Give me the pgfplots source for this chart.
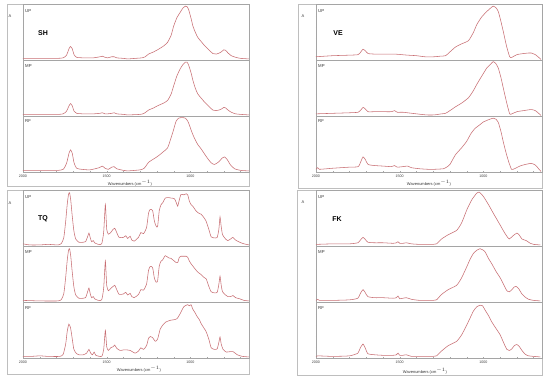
\documentclass[border=0pt]{standalone}
\usepackage{fontspec}
\setmainfont{Liberation Sans}
\usepackage{pgfplots}
\pgfplotsset{compat=1.18}
\definecolor{spec}{RGB}{200,110,115}
\definecolor{frm}{RGB}{190,190,190}
\definecolor{sep}{RGB}{165,165,165}
\pgfplotsset{
 sp/.style={scale only axis, width=226pt, height=56pt, xmin=650, xmax=2000, x dir=reverse,
  ymin=-0.01, ymax=1.03, axis line style={draw=sep, line width=0.5pt},
  ytick={0.2,0.4,0.6,0.8}, yticklabels={}, ytick pos=left, tick align=inside,
  major tick length=1.2pt, minor tick length=1pt, tick style={draw=gray!70, line width=0.3pt},
  xtick=\empty, anchor=north west},
 spb/.style={sp, xtick={2000,1500,1000}, minor xtick={1900,1800,...,700}, xtick pos=bottom,
  xticklabel style={font=\fontsize{3.6}{4}\selectfont, text=black!75, yshift=0.6pt},
  /pgf/number format/assume math mode=true, /pgf/number format/set thousands separator={}},
 ln/.style={draw=spec, line width=0.55pt, smooth, tension=0.35, mark=none}
}
\newcommand{\sub}[4]{\begin{axis}[#3, at={(#1pt,#2pt)}]
 \addplot[ln] coordinates {#4};
 \end{axis}}
\tikzset{lab/.style={font=\fontsize{4.3}{5}\selectfont, text=black!80, anchor=west, inner sep=0pt},
 big/.style={font=\fontsize{7}{8}\selectfont\bfseries, inner sep=0pt},
 wn/.style={font=\fontsize{4}{5}\selectfont, text=black!80, inner sep=0pt}}
\begin{document}
\begin{tikzpicture}
\path[use as bounding box, fill=white] (0,0) rectangle (550pt,381pt);
% frames
\draw[frm, line width=0.5pt] (7pt,377pt) rectangle (249pt,195pt);
\draw[frm, line width=0.5pt] (298pt,377pt) rectangle (542pt,193pt);
\draw[frm, line width=0.5pt] (7pt,191pt) rectangle (249pt,7pt);
\draw[frm, line width=0.5pt] (297pt,191pt) rectangle (542pt,6pt);
% ===== SH =====
\sub{23}{377}{sp}{(2000,0.02)(1900,0.02)(1800,0.02)(1760,0.03)(1740,0.08)(1725,0.20)(1716,0.24)(1706,0.20)(1695,0.09)(1680,0.04)(1640,0.03)(1580,0.03)(1540,0.05)(1526,0.06)(1510,0.04)(1495,0.03)(1470,0.05)(1456,0.05)(1440,0.03)(1400,0.02)(1376,0.01)(1330,0.02)(1290,0.03)(1270,0.05)(1250,0.10)(1220,0.14)(1196,0.18)(1160,0.25)(1136,0.32)(1115,0.45)(1100,0.62)(1080,0.78)(1060,0.88)(1046,0.95)(1030,0.99)(1020,0.98)(1010,0.92)(995,0.75)(985,0.62)(970,0.50)(956,0.41)(935,0.33)(916,0.26)(890,0.18)(866,0.11)(846,0.10)(820,0.13)(800,0.18)(790,0.17)(775,0.12)(756,0.07)(730,0.04)(700,0.02)(650,0.01)}
\sub{23}{321}{sp}{(2000,0.02)(1800,0.02)(1760,0.03)(1740,0.08)(1725,0.18)(1716,0.22)(1706,0.18)(1695,0.08)(1680,0.04)(1640,0.03)(1580,0.03)(1540,0.04)(1526,0.05)(1510,0.03)(1495,0.03)(1470,0.04)(1456,0.05)(1440,0.03)(1400,0.02)(1376,0.01)(1300,0.02)(1276,0.04)(1250,0.10)(1220,0.14)(1196,0.18)(1160,0.23)(1136,0.28)(1115,0.40)(1100,0.55)(1080,0.74)(1060,0.87)(1046,0.94)(1030,0.99)(1020,0.99)(1010,0.93)(995,0.78)(985,0.65)(970,0.50)(956,0.40)(935,0.32)(916,0.25)(890,0.17)(866,0.10)(846,0.09)(820,0.11)(800,0.15)(790,0.14)(775,0.10)(756,0.06)(730,0.03)(700,0.02)(650,0.01)}
\sub{23}{265}{spb}{(2000,0.02)(1800,0.02)(1760,0.04)(1740,0.15)(1725,0.34)(1716,0.40)(1706,0.34)(1695,0.16)(1680,0.06)(1650,0.04)(1600,0.03)(1545,0.07)(1526,0.10)(1510,0.06)(1490,0.04)(1470,0.08)(1456,0.09)(1440,0.05)(1400,0.02)(1376,0.01)(1300,0.03)(1276,0.06)(1250,0.17)(1236,0.20)(1196,0.28)(1160,0.37)(1136,0.44)(1116,0.62)(1100,0.78)(1086,0.93)(1070,0.99)(1050,1.0)(1030,0.99)(1015,0.93)(1006,0.86)(990,0.72)(976,0.62)(956,0.50)(936,0.42)(906,0.28)(876,0.16)(856,0.13)(830,0.18)(810,0.25)(796,0.27)(780,0.22)(760,0.12)(736,0.05)(700,0.02)(650,0.01)}
% ===== VE =====
\sub{316}{377}{sp}{(2000,0.05)(1900,0.07)(1800,0.08)(1748,0.09)(1730,0.15)(1719,0.19)(1705,0.16)(1689,0.11)(1650,0.10)(1600,0.10)(1531,0.10)(1490,0.09)(1453,0.08)(1400,0.07)(1350,0.05)(1295,0.05)(1260,0.06)(1226,0.07)(1200,0.14)(1167,0.23)(1130,0.29)(1089,0.35)(1060,0.50)(1039,0.65)(1010,0.79)(980,0.89)(955,0.96)(941,0.99)(925,0.96)(911,0.89)(895,0.70)(882,0.53)(862,0.25)(843,0.05)(830,0.04)(800,0.09)(760,0.11)(730,0.12)(714,0.12)(690,0.09)(670,0.04)(656,0.0)}
\sub{316}{321}{sp}{(2000,0.03)(1900,0.04)(1800,0.05)(1748,0.06)(1730,0.11)(1719,0.15)(1705,0.12)(1689,0.07)(1650,0.07)(1600,0.07)(1550,0.07)(1531,0.09)(1515,0.06)(1480,0.06)(1453,0.05)(1400,0.03)(1340,0.01)(1295,0.01)(1250,0.03)(1226,0.04)(1200,0.09)(1167,0.16)(1130,0.23)(1089,0.33)(1060,0.46)(1039,0.58)(1010,0.73)(980,0.88)(955,0.96)(941,1.0)(925,0.96)(911,0.88)(895,0.70)(882,0.52)(862,0.25)(843,0.03)(830,0.03)(800,0.07)(760,0.09)(714,0.11)(690,0.09)(670,0.04)(656,0.0)}
\sub{316}{265}{spb}{(2000,0.04)(1990,0.07)(1980,0.04)(1900,0.06)(1800,0.08)(1748,0.09)(1730,0.20)(1719,0.27)(1705,0.22)(1689,0.13)(1650,0.11)(1600,0.10)(1550,0.09)(1531,0.11)(1515,0.08)(1480,0.09)(1453,0.10)(1430,0.07)(1380,0.05)(1330,0.04)(1295,0.04)(1240,0.05)(1220,0.08)(1200,0.13)(1167,0.31)(1130,0.44)(1100,0.56)(1075,0.70)(1050,0.80)(1020,0.87)(1000,0.92)(970,0.96)(941,0.99)(925,0.97)(911,0.91)(895,0.74)(882,0.56)(865,0.35)(850,0.19)(832,0.04)(815,0.05)(783,0.10)(750,0.13)(714,0.15)(690,0.12)(670,0.05)(656,0.0)}
% ===== TQ =====
\sub{23}{191}{sp}{(2000,0.03)(1960,0.01)(1900,0.01)(1850,0.02)(1790,0.01)(1770,0.04)(1756,0.15)(1745,0.45)(1736,0.76)(1728,0.95)(1722,0.98)(1715,0.85)(1706,0.55)(1696,0.27)(1685,0.12)(1666,0.06)(1640,0.06)(1626,0.07)(1612,0.18)(1606,0.23)(1598,0.14)(1590,0.07)(1580,0.09)(1572,0.05)(1550,0.02)(1530,0.03)(1518,0.25)(1508,0.76)(1500,0.30)(1490,0.21)(1476,0.24)(1462,0.30)(1452,0.32)(1440,0.24)(1426,0.15)(1400,0.15)(1386,0.18)(1375,0.13)(1360,0.17)(1350,0.10)(1336,0.08)(1310,0.15)(1296,0.24)(1280,0.22)(1262,0.33)(1250,0.60)(1240,0.67)(1226,0.65)(1215,0.45)(1205,0.36)(1196,0.35)(1186,0.65)(1175,0.76)(1166,0.79)(1150,0.88)(1130,0.89)(1116,0.88)(1096,0.87)(1085,0.80)(1076,0.73)(1066,0.85)(1056,0.95)(1040,0.94)(1025,0.96)(1016,0.94)(1006,0.82)(996,0.76)(986,0.73)(966,0.64)(950,0.60)(936,0.58)(920,0.52)(906,0.45)(890,0.30)(876,0.16)(856,0.14)(840,0.15)(830,0.30)(823,0.53)(816,0.35)(808,0.20)(790,0.12)(776,0.09)(760,0.12)(746,0.15)(730,0.10)(706,0.06)(680,0.03)(650,0.01)}
\sub{23}{135}{sp}{(2000,0.02)(1900,0.01)(1790,0.01)(1770,0.04)(1756,0.15)(1745,0.45)(1736,0.76)(1728,0.95)(1722,0.98)(1715,0.85)(1706,0.55)(1696,0.27)(1685,0.12)(1666,0.06)(1640,0.06)(1626,0.07)(1612,0.20)(1606,0.25)(1598,0.14)(1590,0.07)(1580,0.09)(1572,0.05)(1550,0.02)(1530,0.03)(1518,0.25)(1508,0.75)(1500,0.30)(1490,0.20)(1476,0.24)(1462,0.28)(1452,0.30)(1440,0.22)(1426,0.13)(1400,0.14)(1386,0.17)(1375,0.12)(1360,0.15)(1350,0.09)(1336,0.07)(1310,0.13)(1296,0.22)(1280,0.21)(1262,0.32)(1250,0.58)(1240,0.65)(1226,0.63)(1215,0.43)(1205,0.36)(1196,0.38)(1186,0.66)(1175,0.75)(1166,0.77)(1150,0.85)(1130,0.81)(1116,0.80)(1096,0.75)(1085,0.72)(1076,0.72)(1066,0.82)(1056,0.84)(1040,0.84)(1025,0.84)(1016,0.82)(1006,0.75)(996,0.70)(986,0.66)(966,0.58)(950,0.53)(936,0.50)(920,0.45)(906,0.42)(890,0.28)(876,0.18)(856,0.16)(840,0.17)(830,0.32)(823,0.47)(816,0.30)(808,0.18)(790,0.12)(776,0.09)(760,0.09)(746,0.11)(730,0.07)(706,0.05)(680,0.02)(650,0.01)}
\sub{23}{79}{spb}{(2000,0.02)(1950,0.02)(1900,0.03)(1850,0.02)(1780,0.02)(1760,0.06)(1745,0.25)(1736,0.48)(1726,0.62)(1716,0.55)(1706,0.35)(1696,0.15)(1680,0.07)(1666,0.05)(1640,0.05)(1620,0.08)(1606,0.15)(1596,0.08)(1585,0.05)(1575,0.10)(1565,0.04)(1530,0.02)(1518,0.15)(1508,0.50)(1500,0.20)(1490,0.13)(1476,0.18)(1462,0.20)(1452,0.23)(1440,0.17)(1420,0.13)(1400,0.14)(1380,0.14)(1360,0.13)(1330,0.08)(1310,0.12)(1296,0.18)(1280,0.15)(1262,0.22)(1250,0.36)(1240,0.39)(1226,0.37)(1210,0.30)(1196,0.34)(1180,0.53)(1160,0.62)(1146,0.66)(1120,0.69)(1100,0.70)(1080,0.72)(1060,0.82)(1040,0.94)(1025,0.97)(1016,0.98)(1006,0.96)(996,0.98)(986,0.90)(970,0.82)(960,0.76)(946,0.70)(936,0.63)(920,0.55)(906,0.48)(890,0.34)(876,0.18)(856,0.15)(840,0.16)(830,0.28)(823,0.38)(816,0.25)(805,0.15)(785,0.10)(760,0.11)(746,0.11)(720,0.05)(690,0.02)(650,0.01)}
% ===== FK =====
\sub{316}{191}{sp}{(2000,0.02)(1900,0.03)(1800,0.03)(1750,0.05)(1735,0.10)(1719,0.15)(1705,0.11)(1690,0.06)(1650,0.05)(1600,0.05)(1540,0.04)(1520,0.05)(1510,0.07)(1500,0.04)(1480,0.04)(1460,0.05)(1430,0.03)(1380,0.02)(1300,0.02)(1280,0.03)(1250,0.12)(1210,0.20)(1160,0.28)(1130,0.42)(1098,0.67)(1069,0.85)(1040,0.97)(1024,0.99)(1000,0.91)(970,0.76)(941,0.60)(902,0.39)(880,0.27)(862,0.18)(846,0.12)(823,0.18)(800,0.23)(785,0.19)(770,0.12)(744,0.09)(720,0.04)(700,0.02)(660,0.01)}
\sub{316}{135}{sp}{(2000,0.02)(1990,0.04)(1980,0.02)(1900,0.02)(1800,0.03)(1750,0.06)(1735,0.15)(1719,0.22)(1705,0.16)(1690,0.09)(1650,0.07)(1600,0.07)(1540,0.06)(1520,0.07)(1510,0.10)(1500,0.05)(1480,0.06)(1460,0.07)(1430,0.04)(1380,0.02)(1300,0.02)(1280,0.03)(1250,0.13)(1210,0.22)(1160,0.30)(1130,0.44)(1100,0.64)(1080,0.78)(1060,0.89)(1040,0.95)(1020,0.98)(1005,0.96)(990,0.92)(970,0.80)(950,0.70)(925,0.56)(900,0.44)(880,0.32)(860,0.20)(845,0.18)(830,0.22)(815,0.27)(805,0.28)(790,0.24)(770,0.14)(750,0.08)(730,0.04)(700,0.02)(660,0.01)}
\sub{316}{79}{spb}{(2000,0.02)(1990,0.03)(1900,0.02)(1800,0.03)(1750,0.08)(1735,0.18)(1719,0.25)(1705,0.17)(1690,0.07)(1650,0.05)(1600,0.04)(1540,0.04)(1520,0.05)(1510,0.08)(1500,0.04)(1480,0.04)(1460,0.05)(1430,0.02)(1380,0.02)(1300,0.02)(1280,0.03)(1250,0.12)(1210,0.22)(1160,0.30)(1130,0.42)(1100,0.60)(1080,0.73)(1060,0.86)(1040,0.94)(1020,0.97)(1005,0.96)(990,0.88)(970,0.78)(950,0.66)(925,0.54)(900,0.42)(880,0.28)(860,0.15)(845,0.13)(830,0.16)(815,0.22)(800,0.24)(785,0.20)(770,0.13)(750,0.06)(730,0.03)(700,0.02)(660,0.01)}
% ===== labels =====
\node[wn] at (10pt,365pt) {A};
\node[big] at (43pt,348pt) {SH};
\node[lab] at (25pt,370pt) {UP};
\node[lab] at (25pt,315pt) {MP};
\node[lab] at (25pt,260pt) {RF};
\node[wn] at (130pt,198pt) {Wavenumbers (cm$^{-1}$)};
\node[wn] at (303pt,365pt) {A};
\node[big] at (338pt,348pt) {VE};
\node[lab] at (318pt,370pt) {UP};
\node[lab] at (318pt,315pt) {MP};
\node[lab] at (318pt,260pt) {RF};
\node[wn] at (429pt,198pt) {Wavenumbers (cm$^{-1}$)};
\node[wn] at (10pt,178pt) {A};
\node[big] at (43pt,162pt) {TQ};
\node[lab] at (25pt,184pt) {UP};
\node[lab] at (25pt,129pt) {MP};
\node[lab] at (25pt,73pt) {RF};
\node[wn] at (139pt,12pt) {Wavenumbers (cm$^{-1}$)};
\node[wn] at (303pt,179pt) {A};
\node[big] at (337pt,162pt) {FK};
\node[lab] at (318pt,184pt) {UP};
\node[lab] at (318pt,129pt) {MP};
\node[lab] at (318pt,73pt) {RF};
\node[wn] at (425pt,10pt) {Wavenumbers (cm$^{-1}$)};
\end{tikzpicture}
\end{document}
